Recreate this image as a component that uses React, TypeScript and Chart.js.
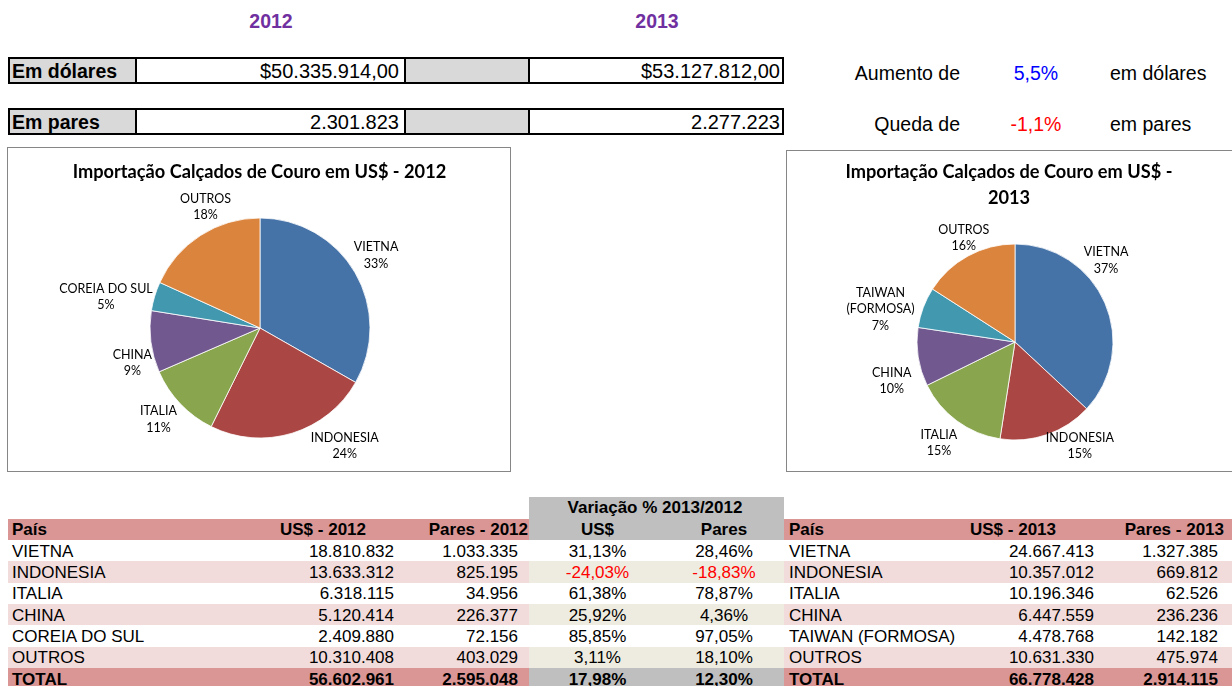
import React, { useEffect, useRef } from "react";
import { Chart, registerables } from "chart.js";
Chart.register(...registerables);

// ---------- data ----------
const years = ["2012", "2013"];
const totalDollars = [50335914.0, 53127812.0];
const totalPairs = [2301823, 2277223];
const changeDollars = "5,5%";
const changePairs = "-1,1%";

const countries2012 = ["VIETNA", "INDONESIA", "ITALIA", "CHINA", "COREIA DO SUL", "OUTROS"];
const usd2012 = [18810832, 13633312, 6318115, 5120414, 2409880, 10310408];
const pairs2012 = [1033335, 825195, 34956, 226377, 72156, 403029];
const total2012 = { usd: 56602961, pairs: 2595048 };

const countries2013 = ["VIETNA", "INDONESIA", "ITALIA", "CHINA", "TAIWAN (FORMOSA)", "OUTROS"];
const usd2013 = [24667413, 10357012, 10196346, 6447559, 4478768, 10631330];
const pairs2013 = [1327385, 669812, 62526, 236236, 142182, 475974];
const total2013 = { usd: 66778428, pairs: 2914115 };

const varUsd = ["31,13%", "-24,03%", "61,38%", "25,92%", "85,85%", "3,11%"];
const varPairs = ["28,46%", "-18,83%", "78,87%", "4,36%", "97,05%", "18,10%"];
const varTotal = { usd: "17,98%", pairs: "12,30%" };

const pieNames2012 = [["VIETNA"], ["INDONESIA"], ["ITALIA"], ["CHINA"], ["COREIA DO SUL"], ["OUTROS"]];
const piePct2012 = [33, 24, 11, 9, 5, 18];
const pieNames2013 = [["VIETNA"], ["INDONESIA"], ["ITALIA"], ["CHINA"], ["TAIWAN", "(FORMOSA)"], ["OUTROS"]];
const piePct2013 = [37, 15, 15, 10, 7, 16];

const sliceColors = ["#4572A7", "#AA4643", "#89A54E", "#71588F", "#4198AF", "#DB843D"];

// label placement tweaks (Excel "best fit"), in px
const labelNudge2012 = [[0, -8], [42, -5], [-7, 3], [3, 19], [-2, 6], [20, -13]];
const labelNudge2013 = [[-21, -35], [21, -6], [-6, 7], [-5, 21], [-9, 11], [9, -2]];

// ---------- helpers ----------
const W = 1232;
const fmt = (n: number) => Math.round(n).toString().replace(/\B(?=(\d{3})+(?!\d))/g, ".");
const fmtMoney = (n: number) => {
  const [i, d] = n.toFixed(2).split(".");
  return "$" + fmt(+i) + "," + d;
};

function T({ x, y, text, align = "left", bold = false, size = 17, color = "#000" }: any) {
  const h = 26;
  const style: any = {
    position: "absolute",
    top: y - h / 2,
    height: h,
    lineHeight: h + "px",
    fontSize: size,
    fontWeight: bold ? "bold" : "normal",
    color,
    whiteSpace: "nowrap",
  };
  if (align === "left") style.left = x;
  else if (align === "right") style.right = W - x;
  else {
    style.left = x - 200;
    style.width = 400;
    style.textAlign = "center";
  }
  return <div style={style}>{text}</div>;
}

function R({ x, y, w, h, bg, border }: any) {
  return (
    <div
      style={{
        position: "absolute",
        left: x,
        top: y,
        width: w,
        height: h,
        background: bg,
        border,
        boxSizing: "border-box",
      }}
    />
  );
}

const labelPlugin = {
  id: "excelLabels",
  afterDatasetsDraw(chart: any, _a: any, opts: any) {
    const ctx = chart.ctx;
    const meta = chart.getDatasetMeta(0);
    ctx.save();
    ctx.fillStyle = "#000";
    ctx.textAlign = "center";
    ctx.textBaseline = "middle";
    ctx.font = `bold ${opts.titleSize}px Lato`;
    opts.title.forEach((t: string, i: number) => ctx.fillText(t, opts.titleX, opts.titleY + i * opts.titleLH));
    ctx.font = `${opts.labelSize}px Lato`;
    meta.data.forEach((arc: any, i: number) => {
      const p = arc.getProps(["x", "y", "startAngle", "endAngle", "outerRadius"], true);
      const mid = (p.startAngle + p.endAngle) / 2;
      const dx = Math.cos(mid);
      const dy = Math.sin(mid);
      const lines = [...opts.names[i], opts.pcts[i] + "%"];
      const w = Math.max(...lines.map((l: string) => ctx.measureText(l).width));
      const h = lines.length * opts.labelLH;
      const nudge = (opts.nudges && opts.nudges[i]) || [0, 0];
      const cx = p.x + dx * (p.outerRadius + opts.gap) + (dx * w) / 2 + nudge[0];
      const cy = p.y + dy * (p.outerRadius + opts.gap) + (dy * h) / 2 + nudge[1];
      lines.forEach((l: string, j: number) => ctx.fillText(l, cx, cy - h / 2 + opts.labelLH * (j + 0.5)));
    });
    ctx.restore();
  },
};

function PieChart({ left, top, width, height, values, names, pcts, title, cfg }: any) {
  const ref = useRef<HTMLCanvasElement>(null);
  useEffect(() => {
    const chart = new Chart(ref.current!, {
      type: "pie",
      data: {
        labels: names.map((n: string[]) => n.join(" ")),
        datasets: [
          {
            data: values,
            backgroundColor: sliceColors,
            borderColor: "#ffffff",
            borderWidth: 0.8,
            hoverOffset: 0,
            radius: cfg.radius,
          } as any,
        ],
      },
      options: {
        responsive: false,
        animation: false,
        events: [],
        layout: { padding: cfg.padding },
        plugins: {
          legend: { display: false },
          tooltip: { enabled: false },
          excelLabels: {
            title,
            titleX: cfg.titleX,
            titleY: cfg.titleY,
            titleLH: 26,
            titleSize: cfg.titleSize,
            labelSize: 12.5,
            labelLH: 16.5,
            gap: 2,
            names,
            pcts,
            nudges: cfg.nudges,
          },
        } as any,
      },
      plugins: [labelPlugin],
    });
    return () => chart.destroy();
  }, []);
  return (
    <div
      style={{
        position: "absolute",
        left,
        top,
        width,
        height,
        border: "1px solid #868686",
        boxSizing: "border-box",
        background: "#fff",
      }}
    >
      <canvas ref={ref} width={width - 2} height={height - 2} style={{ display: "block" }} />
    </div>
  );
}

const PINK = "#DA9694";
const PINK_L = "#F2DCDB";
const GREY = "#BFBFBF";
const BEIGE = "#EEECE1";
const RED = "#FF0000";

export default function App() {
  const rowH = 21.33;
  const headTop = 519;
  const rowTop = 540;
  const rows = countries2012.map((_, i) => i);
  const rc = (i: number) => rowTop + rowH * i + rowH / 2 + 1;

  return (
    <div
      style={{
        position: "absolute",
        left: 0,
        top: 0,
        width: W,
        height: 686,
        overflow: "hidden",
        background: "#fff",
        fontFamily: '"Liberation Sans", Arial, sans-serif',
      }}
    >
      {/* years */}
      <T x={271} y={21} text={years[0]} align="center" bold size={19.5} color="#7030A0" />
      <T x={657} y={21} text={years[1]} align="center" bold size={19.5} color="#7030A0" />

      {/* top boxes */}
      {[57, 108].map((y, k) => (
        <React.Fragment key={k}>
          <R x={8} y={y} w={776} h={27} bg="#fff" border="2px solid #000" />
          <R x={10} y={y + 2} w={125} h={23} bg="#D9D9D9" />
          <R x={135} y={y} w={2} h={27} bg="#000" />
          <R x={404} y={y} w={2} h={27} bg="#000" />
          <R x={406} y={y + 2} w={122} h={23} bg="#D9D9D9" />
          <R x={528} y={y} w={2} h={27} bg="#000" />
          <T x={12} y={y + 14} text={k === 0 ? "Em dólares" : "Em pares"} bold size={19.5} />
          <T
            x={399}
            y={y + 14}
            text={k === 0 ? fmtMoney(totalDollars[0]) : fmt(totalPairs[0])}
            align="right"
            size={20}
          />
          <T
            x={780}
            y={y + 14}
            text={k === 0 ? fmtMoney(totalDollars[1]) : fmt(totalPairs[1])}
            align="right"
            size={20}
          />
        </React.Fragment>
      ))}

      <T x={960} y={73} text="Aumento de" align="right" size={19.5} />
      <T x={1036} y={73} text={changeDollars} align="center" size={19.5} color="#0000FF" />
      <T x={1110} y={73} text="em dólares" size={19.5} />
      <T x={960} y={124} text="Queda de" align="right" size={19.5} />
      <T x={1036} y={124} text={changePairs} align="center" size={19.5} color={RED} />
      <T x={1110} y={124} text="em pares" size={19.5} />

      {/* pie charts */}
      <PieChart
        left={7}
        top={147}
        width={504}
        height={325}
        values={usd2012}
        names={pieNames2012}
        pcts={piePct2012}
        title={["Importação Calçados de Couro em US$ - 2012"]}
        cfg={{
          radius: 110,
          padding: { left: 137, right: 135, top: 65, bottom: 28 },
          titleX: 251.5,
          titleY: 24,
          titleSize: 18.2,
          nudges: labelNudge2012,
        }}
      />
      <PieChart
        left={786}
        top={150}
        width={452}
        height={322}
        values={usd2013}
        names={pieNames2013}
        pcts={piePct2013}
        title={["Importação Calçados de Couro em US$ -", "2013"]}
        cfg={{
          radius: 98,
          padding: { left: 123, right: 117, top: 86, bottom: 24 },
          titleX: 222,
          titleY: 21,
          titleSize: 18.2,
          nudges: labelNudge2013,
        }}
      />

      {/* table backgrounds */}
      <R x={529} y={497} w={255} h={43} bg={GREY} />
      <R x={8} y={headTop} w={521} h={21} bg={PINK} />
      <R x={784} y={headTop} w={448} h={21} bg={PINK} />
      {rows.map((i) => (
        <React.Fragment key={"bg" + i}>
          <R x={8} y={rowTop + rowH * i} w={521} h={rowH + 0.5} bg={i % 2 ? PINK_L : "#fff"} />
          <R x={529} y={rowTop + rowH * i} w={255} h={rowH + 0.5} bg={i % 2 ? BEIGE : "#fff"} />
          <R x={784} y={rowTop + rowH * i} w={448} h={rowH + 0.5} bg={i % 2 ? PINK_L : "#fff"} />
        </React.Fragment>
      ))}
      <R x={8} y={rowTop + rowH * 6} w={521} h={30} bg={PINK} />
      <R x={529} y={rowTop + rowH * 6} w={255} h={30} bg={GREY} />
      <R x={784} y={rowTop + rowH * 6} w={448} h={30} bg={PINK} />

      {/* headers */}
      <T x={655} y={508} text="Variação % 2013/2012" align="center" bold />
      <T x={12} y={530} text="País" bold />
      <T x={323} y={530} text="US$ - 2012" align="center" bold />
      <T x={528} y={530} text="Pares - 2012" align="right" bold />
      <T x={597.5} y={530} text="US$" align="center" bold />
      <T x={724} y={530} text="Pares" align="center" bold />
      <T x={789} y={530} text="País" bold />
      <T x={1013} y={530} text="US$ - 2013" align="center" bold />
      <T x={1224} y={530} text="Pares - 2013" align="right" bold />

      {/* rows */}
      {rows.map((i) => (
        <React.Fragment key={"r" + i}>
          <T x={12} y={rc(i)} text={countries2012[i]} />
          <T x={394} y={rc(i)} text={fmt(usd2012[i])} align="right" />
          <T x={518} y={rc(i)} text={fmt(pairs2012[i])} align="right" />
          <T x={597.5} y={rc(i)} text={varUsd[i]} align="center" color={varUsd[i].startsWith("-") ? RED : "#000"} />
          <T x={724} y={rc(i)} text={varPairs[i]} align="center" color={varPairs[i].startsWith("-") ? RED : "#000"} />
          <T x={789} y={rc(i)} text={countries2013[i]} />
          <T x={1094} y={rc(i)} text={fmt(usd2013[i])} align="right" />
          <T x={1218} y={rc(i)} text={fmt(pairs2013[i])} align="right" />
        </React.Fragment>
      ))}
      <T x={12} y={rc(6)} text="TOTAL" bold />
      <T x={394} y={rc(6)} text={fmt(total2012.usd)} align="right" bold />
      <T x={518} y={rc(6)} text={fmt(total2012.pairs)} align="right" bold />
      <T x={597.5} y={rc(6)} text={varTotal.usd} align="center" bold />
      <T x={724} y={rc(6)} text={varTotal.pairs} align="center" bold />
      <T x={789} y={rc(6)} text="TOTAL" bold />
      <T x={1094} y={rc(6)} text={fmt(total2013.usd)} align="right" bold />
      <T x={1218} y={rc(6)} text={fmt(total2013.pairs)} align="right" bold />
    </div>
  );
}
